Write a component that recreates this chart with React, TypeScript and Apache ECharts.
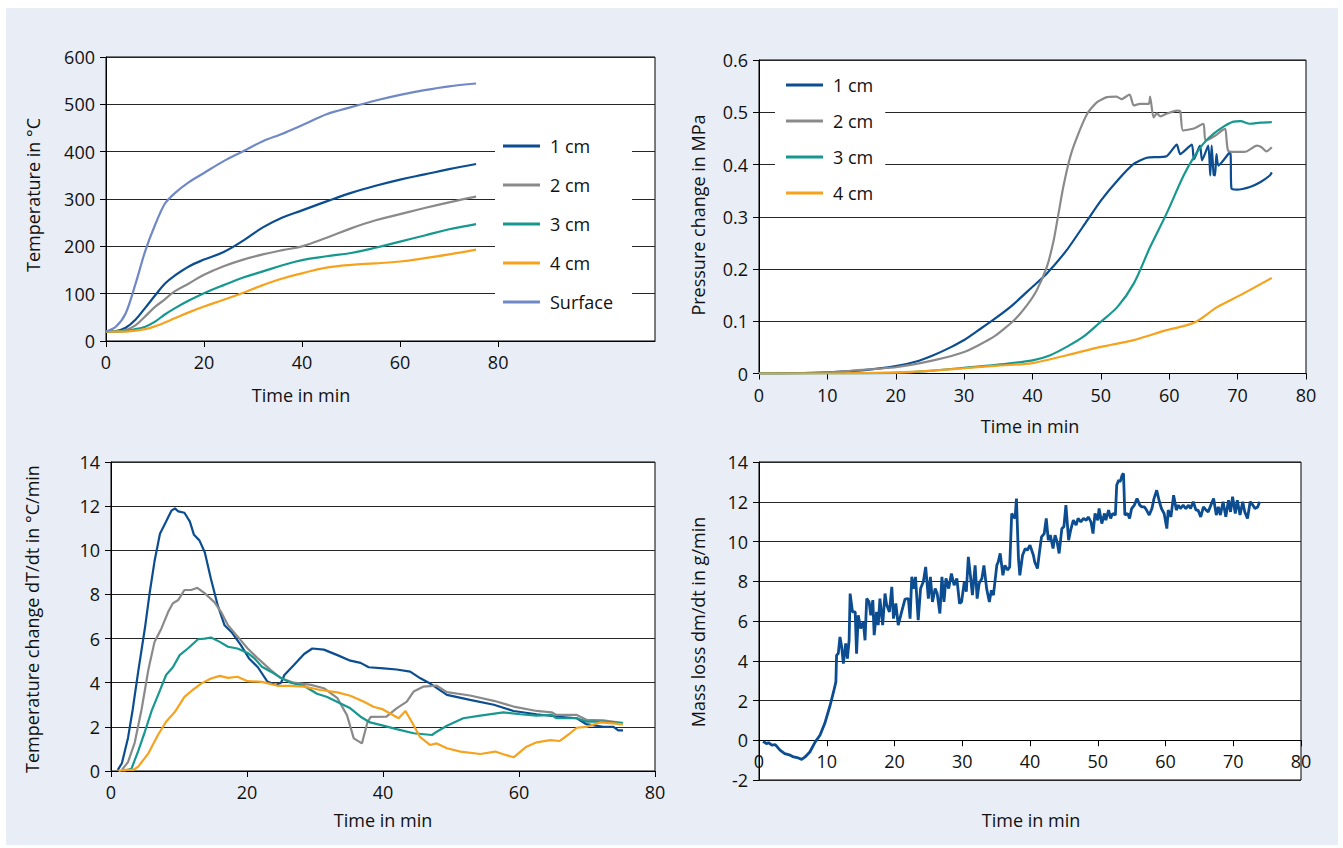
import React, { useEffect, useRef } from "react";
import * as echarts from "echarts";

// ---------- Panel 1: temperature (°C) vs time (min) ----------
const tempTime = [0, 2, 4, 6, 8, 10, 12, 14, 17, 20, 24, 28, 32, 36, 40, 45, 50, 55, 60, 65, 70, 75.5];
const temp1cm = [20, 21, 28, 45, 70, 96, 121, 138, 158, 172, 188, 212, 240, 261, 276, 295, 313, 328, 341, 352, 363, 374];
const temp2cm = [20, 20, 23, 33, 52, 72, 88, 105, 122, 140, 158, 172, 183, 192, 200, 218, 238, 255, 268, 281, 293, 305];
const temp3cm = [20, 20, 21, 25, 30, 41, 56, 69, 86, 101, 118, 134, 147, 160, 171, 179, 186, 197, 210, 223, 236, 247];
const temp4cm = [20, 20, 20, 22, 25, 31, 39, 48, 61, 73, 87, 102, 118, 132, 143, 155, 161, 164, 168, 175, 183, 193];
const tempSurface = [20, 30, 58, 120, 190, 245, 290, 312, 336, 355, 380, 401, 422, 438, 456, 479, 494, 508, 520, 530, 538, 544];

// ---------- Panel 2: pressure change (MPa) [time, value] ----------
const pres1cm = [[0, 0], [5, 0.0005], [10, 0.002], [15, 0.006], [20, 0.014], [23, 0.023], [25.5, 0.035], [28, 0.05], [30, 0.064], [32, 0.082], [34.3, 0.103], [37, 0.13], [40, 0.166], [42, 0.19], [45, 0.236], [48, 0.293], [50, 0.331], [52.4, 0.369], [54.8, 0.401], [56.7, 0.413], [59.6, 0.416], [61.1, 0.438], [61.6, 0.42], [63.3, 0.438], [63.6, 0.41], [64.5, 0.436], [64.8, 0.408], [65.7, 0.436], [66.0, 0.379], [66.2, 0.436], [66.5, 0.38], [66.7, 0.379], [66.9, 0.42], [67.2, 0.398], [68.9, 0.424], [69.1, 0.354], [69.9, 0.352], [71.8, 0.357], [73.3, 0.366], [74.7, 0.379], [75, 0.385]];
const pres2cm = [[0, 0], [5, 0.0005], [10, 0.002], [15, 0.007], [20, 0.012], [25.5, 0.025], [30, 0.041], [34.3, 0.07], [37.3, 0.102], [39.2, 0.131], [40.6, 0.159], [42.1, 0.204], [43.1, 0.255], [43.8, 0.306], [44.5, 0.357], [45.5, 0.414], [46.5, 0.452], [48, 0.497], [49.4, 0.519], [50.9, 0.529], [52.3, 0.53], [53, 0.525], [54.2, 0.534], [54.8, 0.513], [55.7, 0.516], [57, 0.516], [57.2, 0.53], [57.7, 0.49], [58.2, 0.498], [58.7, 0.492], [59.6, 0.497], [61.1, 0.503], [61.6, 0.502], [62, 0.465], [63.6, 0.469], [65, 0.478], [65.3, 0.446], [66.7, 0.455], [67.7, 0.465], [68.2, 0.468], [68.6, 0.427], [69.9, 0.424], [71.3, 0.425], [72.8, 0.436], [73.5, 0.433], [74.2, 0.425], [75, 0.433]];
const pres3cm = [[0, 0], [10, 0], [20, 0.001], [25, 0.005], [30, 0.011], [35, 0.017], [40, 0.025], [42.6, 0.035], [45, 0.051], [47.4, 0.07], [49.8, 0.097], [52.4, 0.127], [54.8, 0.172], [57.2, 0.242], [59.6, 0.306], [62.1, 0.379], [63.6, 0.414], [65, 0.44], [66.5, 0.459], [68, 0.473], [69.4, 0.482], [70.4, 0.483], [71.8, 0.478], [73.3, 0.48], [75, 0.481]];
const pres4cm = [[0, 0], [10, 0], [20, 0.002], [25, 0.005], [30, 0.01], [35, 0.015], [40, 0.02], [45, 0.035], [50, 0.051], [54.8, 0.064], [59.6, 0.083], [63.6, 0.097], [67, 0.127], [70.4, 0.15], [75, 0.183]];

// ---------- Panel 3: temperature change dT/dt (°C/min) [time, value] ----------
const rate1cm = [[1, 0.05], [1.6, 0.35], [2.5, 1.5], [3.2, 2.8], [4, 4.5], [5, 6.5], [5.7, 8.1], [6.4, 9.5], [7.2, 10.75], [8.1, 11.3], [8.9, 11.8], [9.4, 11.9], [9.9, 11.76], [10.8, 11.7], [11.6, 11.3], [12.2, 10.7], [13, 10.45], [13.8, 9.9], [14.7, 8.7], [15.7, 7.5], [16.7, 6.6], [17.7, 6.3], [19.1, 5.7], [20.3, 5.1], [21.6, 4.7], [23, 4.05], [24.2, 3.9], [25, 4.0], [25.5, 4.35], [26.9, 4.8], [28.4, 5.3], [29.6, 5.55], [31.3, 5.5], [33.3, 5.25], [35.2, 5.0], [36.7, 4.9], [37.9, 4.7], [40.1, 4.65], [42, 4.6], [44, 4.5], [45.5, 4.2], [47, 3.95], [49.4, 3.45], [52.8, 3.22], [56.3, 3.0], [59.2, 2.72], [62.6, 2.57], [65.5, 2.47], [68.5, 2.39], [69.9, 2.12], [72.4, 2.0], [73.9, 2.0], [74.6, 1.84], [75.3, 1.84]];
const rate2cm = [[1.6, 0.05], [2.5, 0.4], [3.5, 1.3], [4.5, 2.8], [5.5, 4.6], [6.4, 5.85], [7.4, 6.45], [8.4, 7.2], [9.1, 7.6], [9.9, 7.75], [10.8, 8.2], [11.8, 8.2], [12.7, 8.3], [13.8, 8.05], [15.2, 7.65], [16.2, 7.2], [17.2, 6.6], [18.6, 6.1], [20.1, 5.55], [21.6, 5.1], [23.5, 4.57], [25, 4.2], [26.9, 4.0], [29.4, 3.9], [31.3, 3.75], [33.3, 3.3], [34.7, 2.53], [35.7, 1.48], [36.9, 1.25], [37.7, 2.2], [38.2, 2.45], [40.5, 2.46], [42, 2.84], [43.5, 3.14], [44.5, 3.6], [45.9, 3.82], [47.9, 3.87], [49.4, 3.57], [52.8, 3.42], [56.3, 3.18], [59.2, 2.92], [62.6, 2.72], [64.8, 2.66], [65.5, 2.54], [68.5, 2.54], [69.9, 2.32], [72.4, 2.29], [75.3, 2.17]];
const rate3cm = [[1.8, 0], [3, 0.1], [4, 0.9], [5, 1.8], [6, 2.75], [7.2, 3.65], [8.1, 4.35], [9.1, 4.7], [10.1, 5.25], [11.3, 5.55], [12.8, 5.97], [13.8, 6.0], [14.7, 6.05], [16, 5.85], [17.2, 5.63], [18.6, 5.55], [20.1, 5.35], [21.1, 5.1], [22.2, 4.72], [23.5, 4.5], [25, 4.22], [26.4, 4.0], [28.4, 3.85], [30.3, 3.5], [31.8, 3.35], [33.3, 3.13], [35.2, 2.84], [36.7, 2.46], [38.1, 2.2], [39.6, 2.09], [42, 1.9], [44.5, 1.71], [47.2, 1.63], [47.9, 1.78], [49.4, 2.05], [51.8, 2.39], [54.3, 2.51], [57.7, 2.66], [60.2, 2.57], [62.6, 2.51], [64.8, 2.54], [65.5, 2.39], [68.5, 2.39], [69.9, 2.24], [72.4, 2.24], [75.3, 2.17]];
const rate4cm = [[1.1, 0], [2, 0.05], [3.3, 0.05], [4, 0.2], [5.5, 0.8], [6.9, 1.63], [8.1, 2.23], [9.4, 2.68], [10.8, 3.36], [12, 3.67], [13.3, 3.97], [14.7, 4.19], [16, 4.31], [17.2, 4.22], [18.6, 4.27], [20.1, 4.07], [22.2, 4.04], [24.5, 3.86], [26.4, 3.86], [28.4, 3.82], [30.8, 3.67], [33.3, 3.56], [35.2, 3.41], [37.2, 3.14], [38.6, 2.91], [40, 2.79], [42.3, 2.39], [43.3, 2.72], [44.2, 2.24], [45.4, 1.56], [46.9, 1.18], [47.9, 1.25], [49.4, 1.03], [51.4, 0.88], [54.3, 0.77], [56.5, 0.88], [57.7, 0.76], [59.2, 0.62], [61.1, 1.1], [62.6, 1.3], [64.6, 1.4], [66, 1.36], [67.5, 1.71], [68.5, 1.96], [69.9, 2.0], [71.9, 2.2], [73.9, 2.16], [75.3, 2.11]];

// ---------- Panel 4: mass loss dm/dt (g/min) [time, value] ----------
const massLoss = [[0.6, -0.05], [1.1, -0.17], [1.4, -0.12], [1.9, -0.25], [2.4, -0.22], [3.1, -0.5], [3.8, -0.67], [4.6, -0.75], [5.1, -0.84], [5.8, -0.89], [6.3, -0.96], [6.8, -0.84], [7.5, -0.59], [8.3, -0.08], [9.0, 0.25], [9.7, 0.84], [10.5, 1.76], [11.0, 2.43], [11.35, 2.94], [11.45, 4.28], [11.7, 4.36], [11.95, 5.2], [12.2, 4.7], [12.45, 3.86], [12.8, 4.87], [13.05, 4.11], [13.3, 5.03], [13.45, 7.38], [13.8, 6.46], [14.2, 6.46], [14.4, 4.36], [14.65, 6.29], [15.0, 5.62], [15.4, 5.96], [15.65, 5.03], [15.9, 7.13], [16.25, 6.96], [16.5, 6.29], [16.8, 7.05], [17.0, 5.29], [17.35, 6.46], [17.6, 5.79], [17.85, 7.13], [18.25, 5.79], [18.6, 7.38], [18.85, 6.8], [19.25, 6.46], [19.6, 7.72], [19.85, 6.12], [20.2, 6.88], [20.55, 5.79], [21.05, 6.46], [21.55, 7.1], [22.05, 7.13], [22.3, 6.12], [22.55, 8.22], [22.9, 7.63], [23.1, 8.22], [23.5, 6.04], [23.85, 7.63], [24.25, 7.97], [24.6, 8.72], [25.0, 7.13], [25.3, 8.22], [25.6, 6.96], [26.0, 7.63], [26.3, 7.38], [26.7, 6.38], [27.0, 8.22], [27.3, 6.96], [27.6, 8.14], [28.0, 7.63], [28.4, 8.39], [28.8, 7.8], [29.2, 8.14], [29.6, 6.88], [29.9, 6.96], [30.3, 7.97], [30.6, 7.47], [30.9, 9.23], [31.2, 8.3], [31.5, 7.3], [31.9, 8.8], [32.2, 7.13], [32.5, 7.89], [32.9, 8.14], [33.2, 8.8], [33.6, 7.63], [34.0, 6.96], [34.3, 7.55], [34.6, 7.3], [35.1, 8.8], [35.3, 8.97], [35.6, 9.4], [36.0, 8.3], [36.3, 8.8], [36.7, 8.56], [37.0, 8.72], [37.3, 11.41], [37.6, 11.24], [37.8, 11.16], [38.0, 12.16], [38.3, 9.14], [38.5, 8.3], [38.9, 9.31], [39.3, 9.65], [39.6, 9.56], [40.0, 9.82], [40.5, 9.31], [40.7, 8.97], [41.1, 8.64], [41.4, 9.48], [41.7, 10.23], [42.1, 10.4], [42.4, 11.16], [42.7, 10.07], [43.0, 10.32], [43.4, 9.65], [43.7, 10.32], [44.0, 9.98], [44.3, 9.4], [44.7, 10.65], [45.0, 10.74], [45.3, 11.83], [45.7, 10.07], [46.0, 10.57], [46.4, 11.07], [46.8, 10.82], [47.1, 11.16], [47.5, 10.99], [47.9, 11.16], [48.3, 11.07], [48.6, 11.24], [49.0, 10.99], [49.3, 10.4], [49.6, 11.41], [50.0, 11.07], [50.2, 11.66], [50.6, 10.9], [51.0, 11.41], [51.2, 11.07], [51.6, 11.58], [51.9, 11.16], [52.2, 11.41], [52.6, 11.33], [52.8, 12.84], [53.1, 13.09], [53.3, 13.0], [53.6, 13.34], [53.8, 13.42], [54.0, 11.33], [54.4, 11.41], [54.7, 11.16], [55.0, 11.66], [55.4, 11.83], [55.8, 12.16], [56.2, 11.83], [56.5, 11.74], [56.9, 11.74], [57.2, 11.58], [57.6, 11.33], [58.0, 11.66], [58.3, 12.16], [58.7, 12.58], [59.1, 12.0], [59.4, 11.66], [59.8, 11.41], [60.2, 10.65], [60.4, 11.58], [60.8, 11.24], [61.2, 12.33], [61.6, 11.58], [61.9, 11.83], [62.2, 11.66], [62.6, 11.83], [63.0, 11.66], [63.4, 11.83], [63.7, 11.66], [64.1, 12.0], [64.5, 11.58], [64.8, 11.58], [65.2, 11.24], [65.6, 11.74], [66.0, 11.58], [66.3, 11.49], [66.7, 11.83], [67.1, 12.16], [67.5, 11.33], [67.8, 11.74], [68.1, 11.33], [68.5, 12.0], [68.9, 11.24], [69.3, 12.08], [69.6, 11.49], [69.9, 12.25], [70.3, 11.41], [70.6, 12.08], [71.0, 11.33], [71.4, 12.0], [71.7, 11.49], [72.1, 11.16], [72.5, 12.0], [72.9, 11.83], [73.2, 11.66], [73.6, 11.74], [73.9, 12.0]];

const depthNames = ["1 cm", "2 cm", "3 cm", "4 cm"];
const panel1XTicks = [0, 20, 40, 60, 80];

const COLORS: Record<string, string> = {
  "1 cm": "#0b4d90",
  "2 cm": "#8a8a8a",
  "3 cm": "#17988f",
  "4 cm": "#f6a21c",
  Surface: "#7088c6",
};

const FONT = "'Open Sans', 'Noto Sans', sans-serif";
const FS = 18;
const INK = "#111";
const GRIDC = "#262626";

function xAxisCfg(gridIndex: number, max: number, interval: number, extra: any = {}) {
  return {
    type: "value",
    gridIndex,
    min: 0,
    max,
    interval,
    position: "bottom",
    offset: extra.offset || 0,
    axisLine: { show: true, onZero: false, lineStyle: { color: "#000", width: 1 } },
    axisTick: { show: true, inside: false, length: 6, lineStyle: { color: "#000" }, ...(extra.tick || {}) },
    axisLabel: { show: true, margin: 12, color: INK, fontSize: FS, fontFamily: FONT, ...(extra.label || {}) },
    splitLine: { show: false },
  };
}

function yAxisCfg(gridIndex: number, min: number, max: number, interval: number) {
  return {
    type: "value",
    gridIndex,
    min,
    max,
    interval,
    axisLine: { show: true, onZero: false, lineStyle: { color: "#000", width: 1 } },
    axisTick: { show: true, inside: false, length: 6, lineStyle: { color: "#000" } },
    axisLabel: { show: true, margin: 11, color: INK, fontSize: FS, fontFamily: FONT },
    splitLine: { show: true, lineStyle: { color: GRIDC, width: 1 } },
  };
}

function lineSeries(name: string, data: any[], axisIndex: number, width: number, smooth: boolean | number = false) {
  return {
    type: "line",
    name,
    data,
    xAxisIndex: axisIndex,
    yAxisIndex: axisIndex,
    showSymbol: false,
    symbol: "none",
    smooth,
    lineStyle: { color: COLORS[name] || COLORS["1 cm"], width },
    itemStyle: { color: COLORS[name] || COLORS["1 cm"] },
    emphasis: { disabled: true },
  };
}

function title(text: string, x: number, y: number, vertical = false) {
  return {
    type: "text",
    x,
    y,
    rotation: vertical ? Math.PI / 2 : 0,
    style: { text, align: "center", verticalAlign: "middle", fill: INK, font: `${FS}px ${FONT}` },
  };
}

// grid geometry of panel 4 (value range -2 .. 14): x axis sits on the 0 line
const G4_HEIGHT = 318;
const G4_ZERO_OFFSET = -(G4_HEIGHT * 2) / 16;

export default function App() {
  const ref = useRef<HTMLDivElement>(null);

  useEffect(() => {
    if (!ref.current) return;
    const chart = echarts.init(ref.current, undefined, { renderer: "svg" });

    const p1 = (arr: number[]) => tempTime.map((t, i) => [t, arr[i]]);

    const legendBase = {
      orient: "vertical",
      icon: "rect",
      itemWidth: 37,
      itemHeight: 3,
      backgroundColor: "#fff",
      selectedMode: false,
      textStyle: { color: INK, fontSize: FS, fontFamily: FONT, padding: [0, 0, 0, 5] },
    };

    chart.setOption({
      animation: false,
      backgroundColor: "#fff",
      graphic: [
        { type: "rect", z: -10, silent: true, shape: { x: 6, y: 8, width: 1332, height: 837 }, style: { fill: "#e8edf6" } },
        title("Temperature in °C", 33, 195, true),
        title("Time in min", 301, 395),
        title("Pressure change in MPa", 698, 215, true),
        title("Time in min", 1030, 426),
        title("Temperature change dT/dt in °C/min", 32, 619, true),
        title("Time in min", 383, 820),
        title("Mass loss dm/dt in g/min", 698, 622, true),
        title("Time in min", 1031, 820),
      ],
      grid: [
        { left: 106, top: 57, width: 549, height: 284, show: true, backgroundColor: "#fff", borderColor: "#000", borderWidth: 1 },
        { left: 759, top: 60, width: 547, height: 313.5, show: true, backgroundColor: "#fff", borderColor: "#000", borderWidth: 1 },
        { left: 111, top: 462, width: 544, height: 309, show: true, backgroundColor: "#fff", borderColor: "#000", borderWidth: 1 },
        { left: 759, top: 462, width: 542, height: G4_HEIGHT, show: true, backgroundColor: "#fff", borderColor: "#000", borderWidth: 1 },
      ],
      xAxis: [
        xAxisCfg(0, 112, 20, {
          tick: { customValues: panel1XTicks },
          label: { customValues: panel1XTicks },
        }),
        xAxisCfg(1, 80, 10),
        xAxisCfg(2, 80, 20),
        xAxisCfg(3, 80, 10, { offset: G4_ZERO_OFFSET }),
      ],
      yAxis: [
        yAxisCfg(0, 0, 600, 100),
        yAxisCfg(1, 0, 0.6, 0.1),
        yAxisCfg(2, 0, 14, 2),
        yAxisCfg(3, -2, 14, 2),
      ],
      legend: [
        {
          ...legendBase,
          left: 495,
          top: 127,
          padding: [10, 19, 10, 8],
          itemGap: 21,
          data: [...depthNames, "Surface"],
        },
        {
          ...legendBase,
          left: 775,
          top: 66,
          padding: [10, 12, 10, 11],
          itemGap: 18,
          data: depthNames,
        },
      ],
      series: [
        lineSeries("1 cm", p1(temp1cm), 0, 2.2, 0.4),
        lineSeries("2 cm", p1(temp2cm), 0, 2.2, 0.4),
        lineSeries("3 cm", p1(temp3cm), 0, 2.2, 0.4),
        lineSeries("4 cm", p1(temp4cm), 0, 2.2, 0.4),
        lineSeries("Surface", p1(tempSurface), 0, 2.2, 0.3),
        lineSeries("1 cm", pres1cm, 1, 2.2, 0.2),
        lineSeries("2 cm", pres2cm, 1, 2.2, 0.2),
        lineSeries("3 cm", pres3cm, 1, 2.2, 0.3),
        lineSeries("4 cm", pres4cm, 1, 2.2, 0.3),
        lineSeries("1 cm", rate1cm, 2, 2.2),
        lineSeries("2 cm", rate2cm, 2, 2.2),
        lineSeries("3 cm", rate3cm, 2, 2.2),
        lineSeries("4 cm", rate4cm, 2, 2.2),
        lineSeries("Mass loss", massLoss, 3, 2.8),
      ],
    });

    return () => chart.dispose();
  }, []);

  return <div ref={ref} style={{ position: "absolute", left: 0, top: 0, width: 1343, height: 848 }} />;
}
